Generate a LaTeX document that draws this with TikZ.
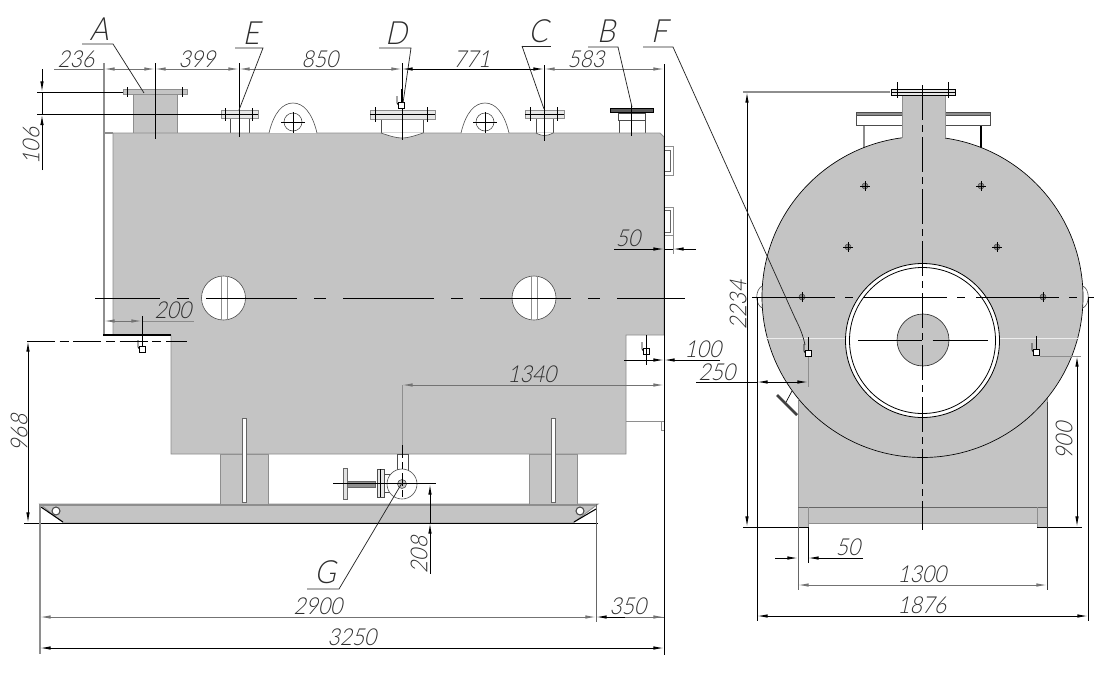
\documentclass[tikz,border=0pt]{standalone}
\usepackage{fontspec}
\setmainfont[FakeSlant=0.22,FakeStretch=0.9]{Lato Light}
\usetikzlibrary{arrows.meta}
\definecolor{bodygray}{HTML}{C4C4C4}
\definecolor{edgegray}{HTML}{8E8E8E}
\definecolor{txtgray}{HTML}{2E2E2E}
\tikzset{
  x=0.75pt,y=-0.75pt,
  solidpart/.style={fill=bodygray,draw=edgegray,line width=0.7pt},
  whitepart/.style={fill=white,draw=black!70,line width=0.45pt},
  thin line/.style={draw=black,line width=0.55pt},
  gray line/.style={draw=edgegray,line width=0.8pt},
  dimline/.style={draw=black,line width=0.7pt,{Latex[length=8pt,width=2.6pt]}-{Latex[length=8pt,width=2.6pt]}},
  dimgray/.style={dimline,draw=black!55},
  dimend/.style={draw=black,line width=0.7pt,-{Latex[length=8pt,width=2.6pt]}},
  extline/.style={draw=black,line width=0.7pt},
  leader/.style={draw=black!85,line width=0.55pt},
  centre h/.style={draw=black,line width=0.7pt,dash pattern=on 68.25pt off 12.75pt on 9pt off 12.75pt,dash phase=19.5pt},
  centre v/.style={draw=black,line width=0.7pt,dash pattern=on 26pt off 4pt on 5pt off 4pt},
  dimtext/.style={text=txtgray,font=\fontsize{17.5}{17.5}\selectfont,inner sep=0pt},
  lettertext/.style={text=txtgray,font=\fontsize{24}{24}\selectfont,inner sep=0pt},
}
\newcommand{\tinyvalve}[3]{% x, y of the square, direction of the hook
  \begin{scope}[shift={(#1,#2)}]
    \draw[thin line] (0,-14) -- (0,0);
    \draw[thin line] (#3*4,-7) -- (#3*4,0) -- (#3*2,3);
    \draw[fill=white,draw=black,line width=0.7pt] (-3,-1) rectangle (3,5);
  \end{scope}}
\newcommand{\plusmark}[2]{%
  \draw[black!70,fill=black!45,line width=0.4pt] (#1,#2) circle[radius=3];
  \draw[black,line width=0.6pt] (#1-5,#2) -- (#1+5,#2) (#1,#2-5) -- (#1,#2+5);}
\begin{document}
\begin{tikzpicture}
\useasboundingbox (0,0) rectangle (1109,686);
\fill[white] (0,0) rectangle (1109,686);

% ---------- side view ----------
% frame
\path[solidpart] (40,504) -- (598,504) -- (573,523) -- (63,523) -- cycle;
\draw[edgegray,line width=1.6pt] (40,505) -- (597,505);
\fill[white] (40,506) -- (63,523) -- (40,523) -- cycle;
\fill[white] (597,506) -- (574,523) -- (597,523) -- cycle;
\draw[black,line width=0.8pt] (41,507) -- (63,522) (574,522) -- (596,509);
\draw[whitepart,line width=0.8pt] (56,511) circle[radius=4];
\draw[whitepart,line width=0.8pt] (580,511) circle[radius=4];
% supports
\path[solidpart] (220,454) rectangle (268,504);
\path[solidpart] (529,454) rectangle (577,504);
% nozzles
\path[solidpart] (133,94) rectangle (177,133);
\path[solidpart] (123,89) rectangle (187,94);
\path[whitepart] (230,118) rectangle (249,133);
\path[solidpart,fill=white!60!bodygray] (221,110) rectangle (258,118);
\draw[thin line] (221,114) -- (258,114);
\path[whitepart] (381,119) rectangle (423,133);
\path[solidpart,fill=white!60!bodygray] (370,110) rectangle (435,119);
\draw[thin line] (370,114.5) -- (435,114.5);
\path[whitepart] (536,118) rectangle (553,133);
\path[solidpart,fill=white!60!bodygray] (525,110) rectangle (564,118);
\draw[thin line] (525,114) -- (564,114);
\path[whitepart] (619,120) rectangle (645,133);
\path[whitepart] (618,113) -- (645,113) -- (645,120) -- (618,120) -- cycle;
\draw[fill=black!65,draw=black,line width=0.4pt] (610,108) rectangle (653,112.5);
% body
\path[solidpart] (113,133) -- (660,133) -- (664,137) -- (664,335) -- (626,335) -- (626,454) -- (171,454) -- (171,335) -- (113,335) -- cycle;
\draw[gray line] (104,133) -- (113,133) (104,133) -- (104,335);
\draw[black,line width=0.8pt] (103,335) -- (171,335);
% dished heads
\draw[whitepart] (381,133) .. controls (390,136) and (396,138) .. (402,138) .. controls (408,138) and (414,136) .. (423,133);
\draw[whitepart] (536,133) .. controls (540,135) and (542,135.5) .. (544,135.5) .. controls (547,135.5) and (549,135) .. (553,133);
% lugs
\draw[whitepart] (269,133) .. controls (274,112) and (283,103) .. (293,103) .. controls (303,103) and (312,112) .. (317,133);
\draw[whitepart] (461,133) .. controls (466,112) and (475,103) .. (485,103) .. controls (495,103) and (504,112) .. (509,133);
\draw[whitepart] (293,122) circle[radius=9];
\draw[whitepart] (485,122) circle[radius=9];
\draw[thin line] (281,122) -- (305,122) (293,112) -- (293,133);
\draw[thin line] (473,122) -- (497,122) (485,112) -- (485,133);
% bolts on flanges
\draw[thin line] (127,87) -- (127,97) (182,87) -- (182,97);
\draw[thin line] (225,108) -- (225,121) (252,108) -- (252,121);
\draw[thin line] (375,107) -- (375,122) (427,107) -- (427,122);
\draw[thin line] (530,107) -- (530,121) (557,107) -- (557,121);
% end brackets
\draw[whitepart,draw=edgegray] (664,146) -- (673,146) -- (673,175) -- (664,175);
\draw[thin line,black!60] (664,150) -- (670,150) -- (670,171) -- (664,171);
\draw[whitepart,draw=edgegray] (664,207) -- (673,207) -- (673,235) -- (664,235);
\draw[thin line,black!60] (664,210) -- (670,210) -- (670,232) -- (664,232);
\draw[gray line,line width=0.5pt] (626,421) -- (664,421);
\draw[gray line,line width=0.5pt] (661,421) rectangle (664,430);
% openings and slots
\draw[whitepart] (223.5,298) circle[radius=22];
\draw[whitepart] (534,298) circle[radius=22];
\draw[edgegray,line width=0.5pt] (221,276) -- (221,320) (227,276) -- (227,320);
\draw[edgegray,line width=0.5pt] (531,276) -- (531,320) (537,276) -- (537,320);
\draw[fill=white,draw=black!60,line width=0.35pt] (242,418) rectangle (246,502);
\draw[fill=white,draw=black!60,line width=0.35pt] (551,418) rectangle (555,502);
% drain valve G
\path[whitepart] (397,454) rectangle (408,472);
\draw[whitepart] (384,474) -- (392,474) -- (392,492) -- (384,492) -- cycle;
\draw[fill=white!60!bodygray,draw=black!70,line width=0.45pt] (377,469) rectangle (384,497);
\draw[thin line] (380.5,469) -- (380.5,497);
\draw[fill=edgegray,draw=black!60,line width=0.4pt] (347,481) rectangle (375,487);
\draw[fill=white!50!bodygray,draw=black!60,line width=0.4pt] (343,468) rectangle (347,499);
\draw[whitepart] (402,484) circle[radius=15];
\draw[fill=bodygray,draw=black!70,line width=0.45pt] (402,484) circle[radius=4.5];
\draw[thin line] (333,483) -- (436,483);
\draw[thin line,dash pattern=on 10pt off 3pt on 5pt off 3pt] (402,445) -- (402,500);
% centre lines
\draw[centre h] (95,298) -- (685,298);
\draw[thin line] (155,63) -- (155,139);
\draw[thin line] (239,63) -- (239,137);
\draw[thin line] (402,63) -- (402,140);
\draw[thin line] (544,65) -- (544,141);
\draw[thin line] (631,105) -- (631,136);
\draw[centre h,dash phase=0pt,dash pattern=on 21pt off 3.5pt on 6.75pt off 3.5pt] (27,341) -- (187,341);
% small valves
\tinyvalve{142}{347}{-1}
\tinyvalve{646}{349}{-1}
\tinyvalve{401}{103}{-1}

% ---------- dimensions, side view ----------
\draw[gray line] (104,63) -- (104,133);
\draw[extline] (664,64) -- (664,655);
\draw[draw=black!55,line width=0.7pt] (54,69) -- (104,69);
\draw[dimgray] (104,69) -- (155,69);
\draw[dimgray] (155,69) -- (239,69);
\draw[dimgray] (239,69) -- (402,69);
\draw[dimline] (402,69) -- (544,69);
\draw[dimgray] (544,69) -- (664,69);
\node[dimtext] (t236) at (76,59) {236};
\node[dimtext] (t399) at (197,59) {399};
\node[dimtext] (t850) at (320,59) {850};
\node[dimtext] (t771) at (472,59) {771};
\node[dimtext] (t583) at (586,59) {583};
% 106
\draw[extline] (37,92) -- (123,92) (37,114.5) -- (221,114.5);
\draw[dimend] (42,69) -- (42,92);
\draw[dimend] (42,170) -- (42,114.5);
\draw[extline] (42,92) -- (42,114.5);
\node[dimtext,rotate=90] (t106) at (31,146) {106};
% 200
\draw[dimgray] (104,321) -- (142,321);
\draw[draw=black!45,line width=0.7pt] (142,321) -- (194,321);
\draw[thin line] (142,316) -- (142,335);
\node[dimtext] (t200) at (173,310) {200};
% 968
\draw[dimline] (28,341) -- (28,523);
\draw[extline] (24,523) -- (598,523);
\node[dimtext,rotate=90] (t968) at (19,433) {968};
% 50 right
\draw[dimend,draw=black] (614,249) -- (664,249);
\draw[dimend] (696,249) -- (673,249);
\draw[extline] (664,249) -- (673,249);
\draw[gray line,line width=0.5pt] (673,235) -- (673,254);
\node[dimtext] (t50a) at (628,238) {50};
% 100
\draw[dimend] (624,360) -- (664,360);
\draw[dimend] (720,360) -- (664,360);
\draw[thin line] (646,349) -- (646,365);
\node[dimtext] (t100) at (703,349) {100};
% 1340
\draw[dimgray] (402,385) -- (664,385);
\draw[gray line,line width=0.6pt] (402,385) -- (402,445);
\node[dimtext] (t1340) at (532,374) {1340};
% 208
\draw[extline,{Latex[length=8pt,width=2.6pt]}-] (430,484) -- (430,523);
\draw[extline,{Latex[length=8pt,width=2.6pt]}-] (430,523) -- (430,574);
\node[dimtext,rotate=90] (t208) at (419,555) {208};
% base dims
\draw[gray line] (40,504) -- (40,654);
\draw[extline,black!60] (596,504) -- (596,622);
\draw[dimgray] (40,617) -- (596,617);
\draw[dimend] (625,617) -- (596,617);
\draw[draw=black!55,line width=0.7pt] (625,617) -- (664,617);
\draw[draw=black!55,line width=0.7pt,-{Latex[length=8pt,width=2.6pt]}] (640,617) -- (664,617);
\draw[dimline] (40,648) -- (664,648);
\node[dimtext] (t2900) at (318,606) {2900};
\node[dimtext] (t350) at (628,606) {350};
\node[dimtext] (t3250) at (352,637) {3250};

% ---------- letter call-outs ----------
\node[lettertext] (lA) at (99,29) {A};
\draw[leader] (82,44) -- (113,44) -- (144,93);
\node[lettertext] (lE) at (251,33) {E};
\draw[leader] (235,48) -- (263,48) -- (239,110);
\node[lettertext] (lD) at (396,33) {D};
\draw[leader] (379,48) -- (411,48) -- (403,103);
\node[lettertext] (lC) at (538,31) {C};
\draw[leader] (522,46) -- (551,46);
\draw[leader] (522,46) -- (544,109);
\node[lettertext] (lB) at (606,31) {B};
\draw[leader] (588,47) -- (618,47) -- (632,107);
\node[lettertext] (lG) at (325,572) {G};
\draw[leader] (307,589) -- (339,589) -- (402,483);

% ---------- end view ----------
% base
\path[solidpart] (798,380) -- (1047,380) -- (1047,527) -- (1037,527) -- (1037,523) -- (808,523) -- (808,527) -- (798,527) -- cycle;
\draw[black!60,line width=0.5pt] (798,507) -- (1047,507);
\draw[edgegray,line width=0.5pt] (808,507) -- (808,523) (1037,507) -- (1037,523);
\draw[black!75,line width=0.7pt] (1047,402) -- (1047,527);
% bumps
\draw[whitepart] (762,286) .. controls (755,290) and (755,304) .. (762,308);
\draw[whitepart] (1083,286) .. controls (1090,290) and (1090,304) .. (1083,308);
% plate + nozzle
\draw[draw=edgegray,line width=1pt] (864,125) -- (864,150);
\draw[draw=black,line width=1pt] (981,125) -- (981,150);
\path[whitepart] (856,112) rectangle (990,125);
\draw[fill=edgegray,draw=black!70,line width=0.4pt] (856,112) rectangle (990,115);
% shell
\draw[fill=bodygray,draw=black,line width=0.5pt] (922.5,297) circle[radius=160.5];
\path[solidpart,draw=none] (902,95) rectangle (945,140);
\draw[edgegray,line width=0.6pt] (902,95) -- (902,138) (945,95) -- (945,138);
\draw[fill=white!60!bodygray,draw=black,line width=0.5pt] (891,89) rectangle (955,95);
\draw[thin line] (891,92) -- (955,92);
\draw[thin line] (897,82) -- (897,98) (948,82) -- (948,98);
% light chords
\draw[draw=white!70!bodygray,line width=0.6pt] (766,338) -- (846,338) (999,338) -- (1079,338);
% firetube ring
\draw[fill=white,draw=black,line width=0.6pt] (922.5,340.5) circle[radius=77];
\draw[fill=white,draw=black,line width=0.6pt] (922.5,340.5) circle[radius=73];
\draw[fill=bodygray,draw=black!80,line width=0.5pt] (923,340) circle[radius=26];
% cleat
\draw[black,line width=0.5pt] (785,404) -- (792,391);
\draw[draw=black!75,line width=2pt] (777,395) -- (797,415);
\draw[edgegray,line width=0.6pt] (798,399) -- (798,415);
% marks
\plusmark{865}{186}
\plusmark{981}{186}
\plusmark{848}{247}
\plusmark{997}{247}
\plusmark{802}{297}
\plusmark{1043}{297}
% centre lines
\draw[centre h,dash phase=0pt,dash pattern=on 62pt off 8pt on 6pt off 8pt] (752,297) -- (1094,297);
\draw[centre v] (922,85) -- (922,530);
\draw[thin line,dash pattern=on 48pt off 8pt] (858,340) -- (988,340);
% valves
\tinyvalve{808}{351}{-1}
\tinyvalve{1036}{350}{-1}

% ---------- dimensions, end view ----------
\draw[gray line] (743,92) -- (890,92);
\draw[extline] (743,527) -- (808,527);
\draw[extline] (1037,527) -- (1082,527);
\draw[gray line,line width=0.6pt] (1040,356) -- (1081,356);
\draw[dimline] (747,92) -- (747,527);
\node[dimtext,rotate=90] (t2234) at (738,305) {2234};
\draw[dimline] (1077,356) -- (1077,527);
\node[dimtext,rotate=90] (t900) at (1064,441) {900};
\draw[extline] (757,297) -- (757,621);
\draw[extline] (1088,297) -- (1088,621);
\draw[dimline] (757,616) -- (1088,616);
\node[dimtext] (t1876) at (922,605) {1876};
\draw[extline,black!60] (798,527) -- (798,590);
\draw[extline,black!80] (1047,527) -- (1047,590);
\draw[dimgray] (798,585) -- (1047,585);
\node[dimtext] (t1300) at (922,574) {1300};
\draw[extline] (808,527) -- (808,563);
\draw[dimend] (775,558) -- (798,558);
\draw[dimend] (863,558) -- (808,558);
\node[dimtext] (t50b) at (848,547) {50};
% 250 (crosses the shell)
\draw[extline] (696,382) -- (757,382);
\draw[dimend] (780,382) -- (757,382);
\draw[dimend] (780,382) -- (808,382);
\draw[gray line,line width=0.5pt] (808,357) -- (808,387);
\node[dimtext] (t250) at (717,372) {250};
% F call-out (crosses the shell)
\node[lettertext] (lF) at (659,31) {F};
\draw[leader] (643,47) -- (673,47) -- (795,318) .. controls (800,328) and (803,335) .. (805,345);
\end{tikzpicture}
\end{document}
